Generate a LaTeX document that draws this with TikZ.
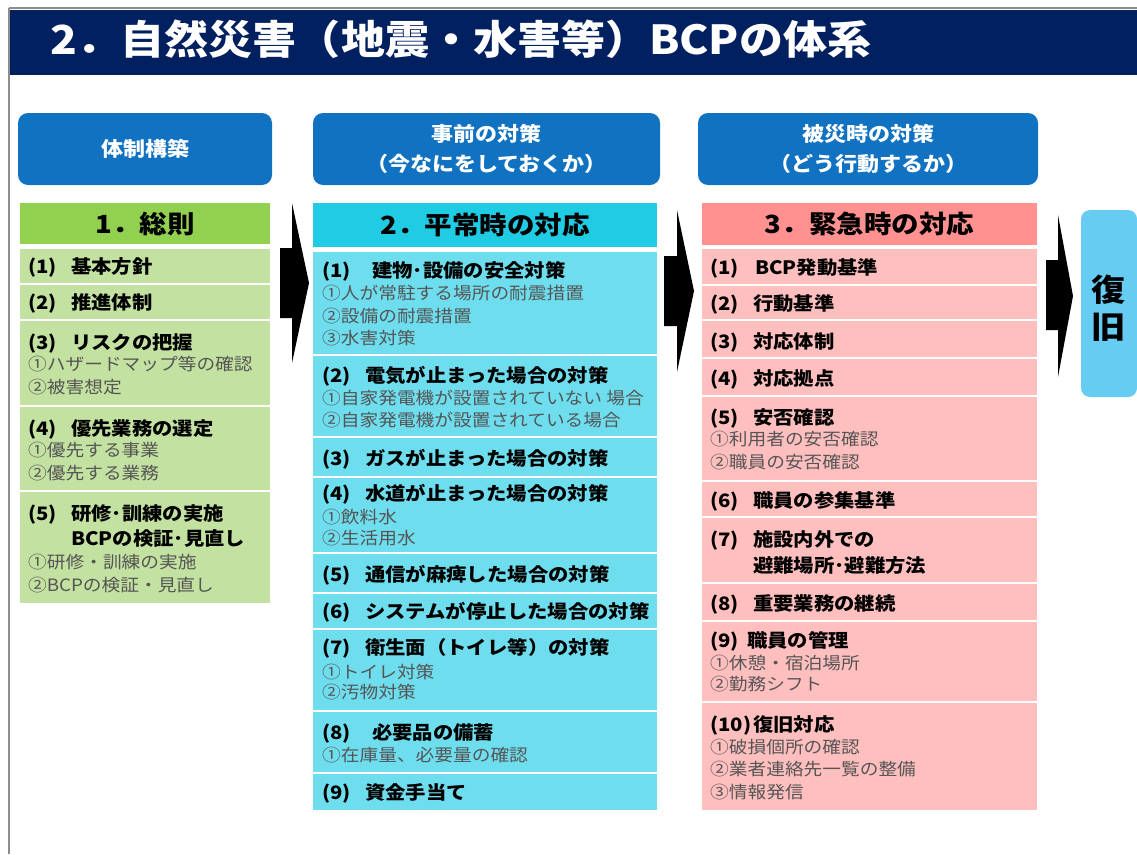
\documentclass[tikz,border=0pt]{standalone}
\usepackage{fontspec}
\setmainfont{Noto Sans CJK JP}[FakeStretch=1.1]
\usetikzlibrary{fit}
\definecolor{navy}{RGB}{0,32,96}
\definecolor{framegray}{RGB}{140,140,140}
\definecolor{hblue}{RGB}{17,114,194}
\definecolor{greenhead}{RGB}{146,208,80}
\definecolor{greenrow}{RGB}{195,225,160}
\definecolor{cyanhead}{RGB}{32,204,228}
\definecolor{cyanrow}{RGB}{110,221,238}
\definecolor{pinkhead}{RGB}{255,145,145}
\definecolor{pinkrow}{RGB}{255,191,191}
\definecolor{recblue}{RGB}{102,204,242}
\definecolor{subgray}{RGB}{85,85,85}
\newcommand\lbl[2][43]{\makebox[#1pt][l]{#2}}
\newcommand\cellbox[6]{\node[cellshape, fill=#2, fit={(#3,#4) (#5,#6)}] (#1) {};}
\begin{document}
\begin{tikzpicture}[x=1pt,y=-1pt,
  cellshape/.style={inner sep=0pt, outer sep=0pt, draw=none},
  hboxshape/.style={inner sep=0pt, outer sep=0pt, fill=hblue, rounded corners=10pt},
  htext/.style={inner sep=0pt, align=center, text=white, font=\fontsize{20}{30}\selectfont\bfseries},
  hd/.style={anchor=west, inner sep=0pt, font=\fontsize{18.5}{22}\selectfont\bfseries, text height=16.3pt, text depth=2.2pt},
  sb/.style={anchor=west, inner sep=0pt, font=\fontsize{17}{20}\selectfont, text=subgray, text height=15pt, text depth=2pt},
  colhead/.style={inner sep=0pt, font=\fontsize{25}{30}\selectfont\bfseries, text height=22pt, text depth=3pt},
  blockarrow/.style={fill=black}
]
\useasboundingbox (0,0) rectangle (1137,854);
% frame and title
\fill[navy] (9,10) rectangle (1137,75);
\draw[framegray, line width=2pt] (9,8) -- (1137,8);
\draw[framegray, line width=2pt] (9,8) -- (9,854);
\node[anchor=west, inner sep=0pt, text=white, font=\fontsize{40}{48}\selectfont\bfseries, text height=35pt, text depth=5pt] (title) at (50,39) {2．自然災害（地震・水害等）BCPの体系};

% top header boxes
\node[hboxshape, fit={(18,113) (272,185)}] (hb1) {};
\node[htext] (hb1t) at (hb1.center) {体制構築};
\node[hboxshape, fit={(313,113) (660,185)}] (hb2) {};
\node[htext] (hb2t) at (hb2.center) {事前の対策\\（今なにをしておくか）};
\node[hboxshape, fit={(698,113) (1038,185)}] (hb3) {};
\node[htext] (hb3t) at (hb3.center) {被災時の対策\\（どう行動するか）};

% column 1
\cellbox{c1h}{greenhead}{20}{203}{270}{244}
\node[colhead] (c1ht) at (c1h.center) {1．総則};
\cellbox{c1r1}{greenrow}{20}{249}{270}{283}
\cellbox{c1r2}{greenrow}{20}{285}{270}{319}
\cellbox{c1r3}{greenrow}{20}{321}{270}{405}
\cellbox{c1r4}{greenrow}{20}{407}{270}{490}
\cellbox{c1r5}{greenrow}{20}{492}{270}{603}
\node[hd] (c1r1a) at (28,266) {\lbl{(1)}基本方針};
\node[hd] (c1r2a) at (28,302) {\lbl{(2)}推進体制};
\node[hd] (c1r3a) at (28,342) {\lbl{(3)}リスクの把握};
\node[sb] (c1r3b) at (28,364) {①ハザードマップ等の確認};
\node[sb] (c1r3c) at (28,387) {②被害想定};
\node[hd] (c1r4a) at (28,428) {\lbl{(4)}優先業務の選定};
\node[sb] (c1r4b) at (28,450) {①優先する事業};
\node[sb] (c1r4c) at (28,473) {②優先する業務};
\node[hd] (c1r5a) at (28,513) {\lbl{(5)}研修･訓練の実施};
\node[hd] (c1r5b) at (71,538) {BCPの検証･見直し};
\node[sb] (c1r5c) at (28,562) {①研修・訓練の実施};
\node[sb] (c1r5d) at (28,585) {②BCPの検証・見直し};

% column 2
\cellbox{c2h}{cyanhead}{313}{203}{657}{247}
\node[colhead] (c2ht) at (c2h.center) {2．平常時の対応};
\cellbox{c2r1}{cyanrow}{313}{252}{657}{354}
\cellbox{c2r2}{cyanrow}{313}{356}{657}{436}
\cellbox{c2r3}{cyanrow}{313}{438}{657}{476}
\cellbox{c2r4}{cyanrow}{313}{478}{657}{552}
\cellbox{c2r5}{cyanrow}{313}{554}{657}{592}
\cellbox{c2r6}{cyanrow}{313}{594}{657}{628}
\cellbox{c2r7}{cyanrow}{313}{630}{657}{710}
\cellbox{c2r8}{cyanrow}{313}{712}{657}{772}
\cellbox{c2r9}{cyanrow}{313}{774}{657}{810}
\node[hd] (c2r1a) at (322,270) {\lbl[50]{(1)}建物･設備の安全対策};
\node[sb] (c2r1b) at (322,293) {①人が常駐する場所の耐震措置};
\node[sb] (c2r1c) at (322,316) {②設備の耐震措置};
\node[sb] (c2r1d) at (322,338) {③水害対策};
\node[hd] (c2r2a) at (322,375) {\lbl{(2)}電気が止まった場合の対策};
\node[sb] (c2r2b) at (322,398) {①自家発電機が設置されていない 場合};
\node[sb] (c2r2c) at (322,420) {②自家発電機が設置されている場合};
\node[hd] (c2r3a) at (322,458) {\lbl{(3)}ガスが止まった場合の対策};
\node[hd] (c2r4a) at (322,493) {\lbl{(4)}水道が止まった場合の対策};
\node[sb] (c2r4b) at (322,517) {①飲料水};
\node[sb] (c2r4c) at (322,538) {②生活用水};
\node[hd] (c2r5a) at (322,574) {\lbl{(5)}通信が麻痺した場合の対策};
\node[hd] (c2r6a) at (322,611) {\lbl{(6)}システムが停止した場合の対策};
\node[hd] (c2r7a) at (322,647) {\lbl{(7)}衛生面（トイレ等）の対策};
\node[sb] (c2r7b) at (322,672) {①トイレ対策};
\node[sb] (c2r7c) at (322,692) {②汚物対策};
\node[hd] (c2r8a) at (322,732) {\lbl[50]{(8)}必要品の備蓄};
\node[sb] (c2r8b) at (322,755) {①在庫量、必要量の確認};
\node[hd] (c2r9a) at (322,792) {\lbl{(9)}資金手当て};

% column 3
\cellbox{c3h}{pinkhead}{702}{203}{1037}{245}
\node[colhead] (c3ht) at (c3h.center) {3．緊急時の対応};
\cellbox{c3r1}{pinkrow}{702}{249}{1037}{284}
\cellbox{c3r2}{pinkrow}{702}{286}{1037}{319}
\cellbox{c3r3}{pinkrow}{702}{321}{1037}{357}
\cellbox{c3r4}{pinkrow}{702}{359}{1037}{395}
\cellbox{c3r5}{pinkrow}{702}{397}{1037}{480}
\cellbox{c3r6}{pinkrow}{702}{482}{1037}{516}
\cellbox{c3r7}{pinkrow}{702}{518}{1037}{582}
\cellbox{c3r8}{pinkrow}{702}{584}{1037}{620}
\cellbox{c3r9}{pinkrow}{702}{622}{1037}{701}
\cellbox{c3r10}{pinkrow}{702}{703}{1037}{810}
\node[hd] (c3r1a) at (710,267) {\lbl[45]{(1)}BCP発動基準};
\node[hd] (c3r2a) at (710,303) {\lbl{(2)}行動基準};
\node[hd] (c3r3a) at (710,341) {\lbl{(3)}対応体制};
\node[hd] (c3r4a) at (710,378) {\lbl{(4)}対応拠点};
\node[hd] (c3r5a) at (710,417) {\lbl{(5)}安否確認};
\node[sb] (c3r5b) at (710,439) {①利用者の安否確認};
\node[sb] (c3r5c) at (710,462) {②職員の安否確認};
\node[hd] (c3r6a) at (710,500) {\lbl{(6)}職員の参集基準};
\node[hd] (c3r7a) at (710,539) {\lbl{(7)}施設内外での};
\node[hd] (c3r7b) at (753,565) {避難場所･避難方法};
\node[hd] (c3r8a) at (710,603) {\lbl{(8)}重要業務の継続};
\node[hd] (c3r9a) at (710,640) {\lbl[37]{(9)}職員の管理};
\node[sb] (c3r9b) at (710,663) {①休憩・宿泊場所};
\node[sb] (c3r9c) at (710,684) {②勤務シフト};
\node[hd] (c3r10a) at (710,724) {\lbl{(10)}復旧対応};
\node[sb] (c3r10b) at (710,747) {①破損個所の確認};
\node[sb] (c3r10c) at (710,769) {②業者連絡先一覧の整備};
\node[sb] (c3r10d) at (710,792) {③情報発信};

% recovery box
\node[inner sep=0pt, outer sep=0pt, fill=recblue, rounded corners=9pt, fit={(1081,210) (1137,397)}] (rec) {};
\node[inner sep=0pt, align=center, font=\fontsize{31}{37}\selectfont\bfseries] (rect) at (1109,308) {復\\旧};

% block arrows
\fill[blockarrow] (280,248) -- (292,248) -- (292,203) -- (309,283) -- (292,363) -- (292,318) -- (280,318) -- cycle;
\fill[blockarrow] (664,256) -- (677,256) -- (677,210) -- (694,291) -- (677,372) -- (677,326) -- (664,326) -- cycle;
\fill[blockarrow] (1046,260) -- (1058,260) -- (1058,215) -- (1073,296) -- (1058,377) -- (1058,330) -- (1046,330) -- cycle;
\end{tikzpicture}
\end{document}
